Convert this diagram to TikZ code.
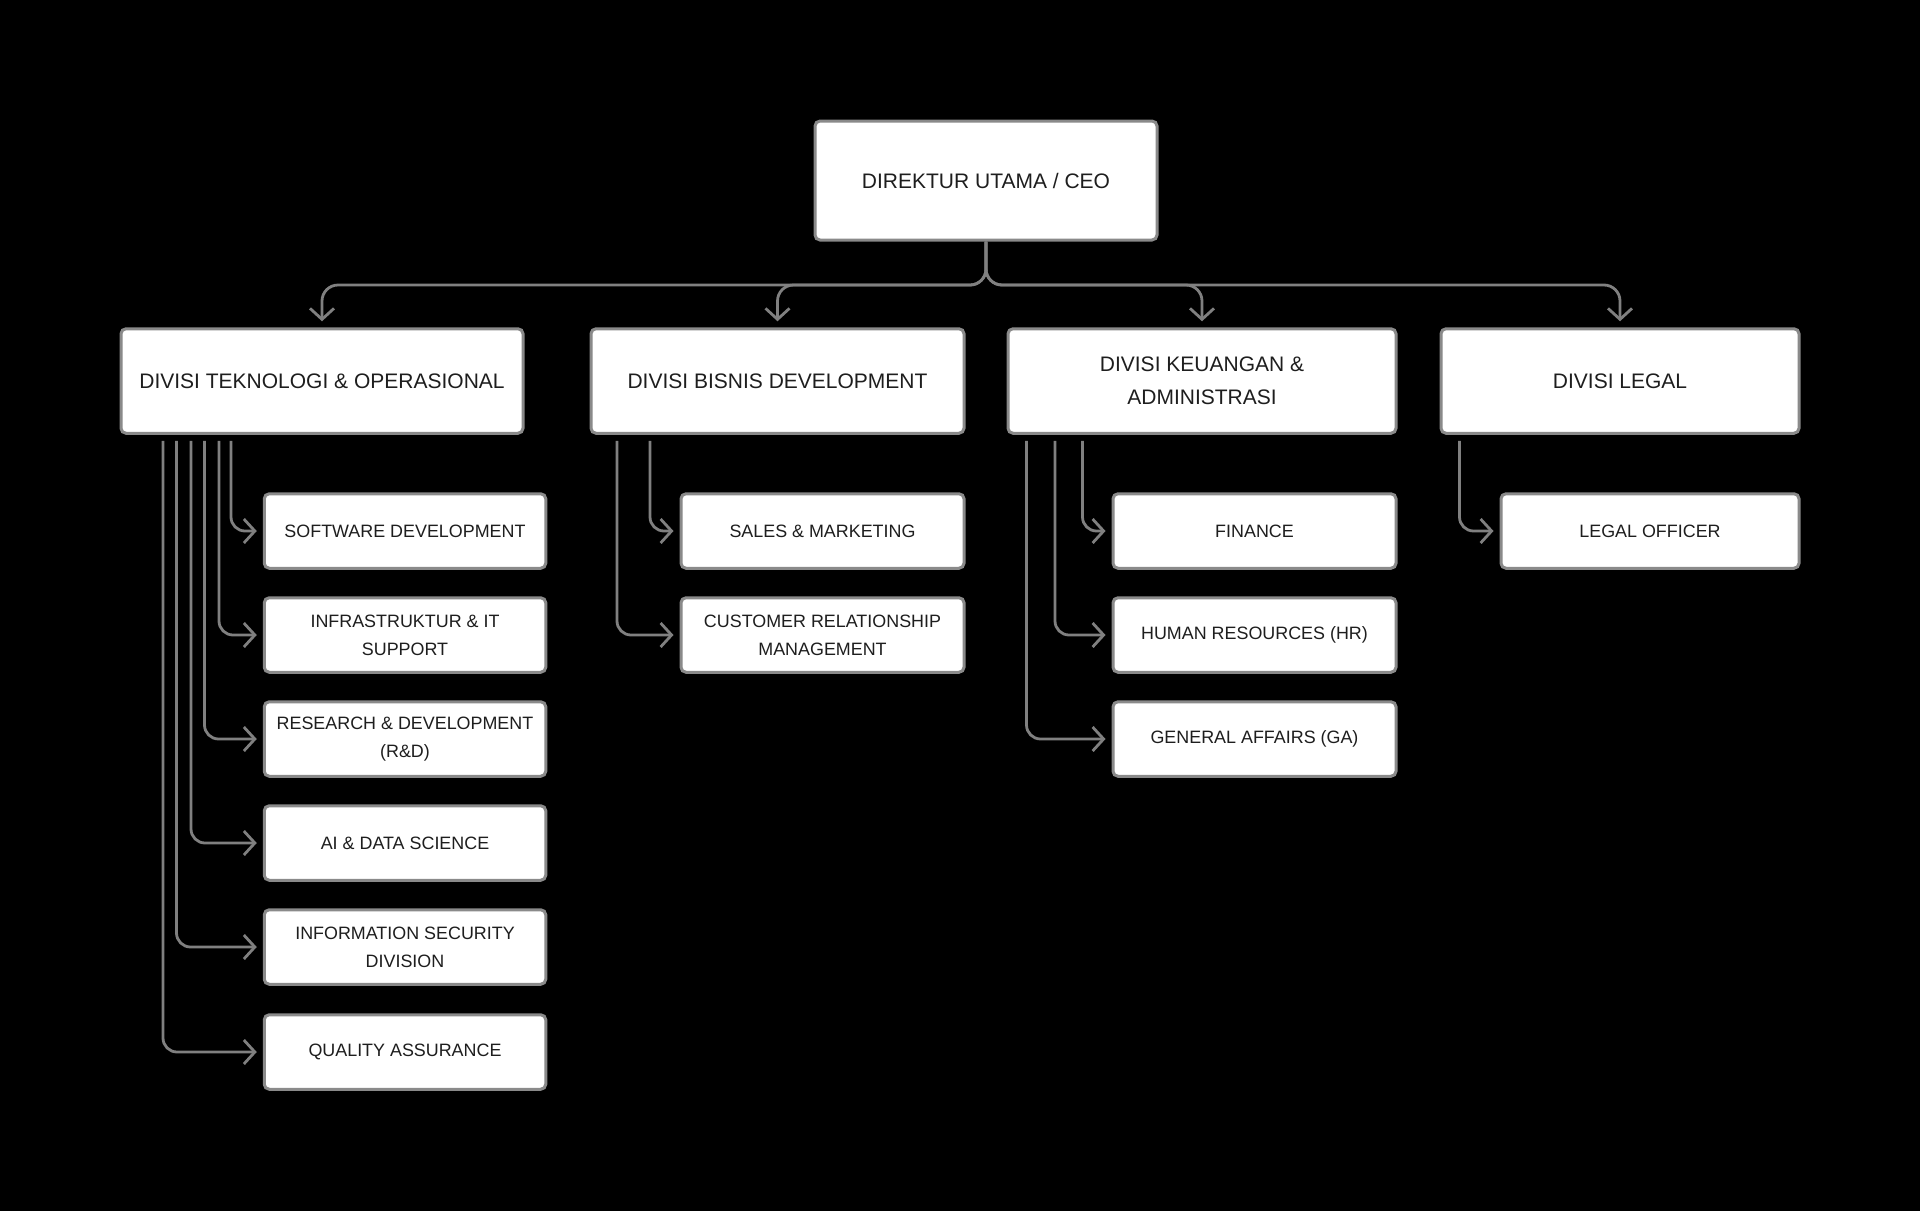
\documentclass[tikz,border=0pt]{standalone}
\usepackage{fontspec}
\setmainfont{Liberation Sans}
\usetikzlibrary{arrows.meta}
\definecolor{linegray}{HTML}{808080}
\definecolor{boxgray}{HTML}{8A8A8A}
\definecolor{txt}{HTML}{1E1E1E}
\tikzset{
  box/.style={draw=boxgray, line width=3pt, fill=white, rounded corners=5pt, inner sep=0pt, align=center, text=txt},
  headbox/.style={box, font=\fontsize{21}{33.5}\selectfont},
  subbox/.style={box, font=\fontsize{17.9}{28}\selectfont, minimum height=74.5pt},
  conn/.style={draw=linegray, line width=2.8pt, rounded corners=16pt, -{Straight Barb[length=11pt,width=24pt,line width=2.8pt]}},
}
\begin{document}
\begin{tikzpicture}[x=1pt,y=-1pt]
\fill[black] (0,0) rectangle (1920,1211);
\useasboundingbox (0,0) rectangle (1920,1211);

% top
\node[headbox, minimum width=342pt, minimum height=119pt] (ceo) at (986,180.5) {\raisebox{-1.5pt}{DIREKTUR UTAMA / CEO}};

% divisions
\node[headbox, minimum width=402pt, minimum height=104.5pt] (tek) at (322,381) {\raisebox{-2pt}{DIVISI TEKNOLOGI \& OPERASIONAL}};
\node[headbox, minimum width=373pt, minimum height=104.5pt] (bis) at (777.5,381) {\raisebox{-2pt}{DIVISI BISNIS DEVELOPMENT}};
\node[headbox, minimum width=388pt, minimum height=104.5pt] (keu) at (1202,381) {DIVISI KEUANGAN \&\\ADMINISTRASI};
\node[headbox, minimum width=358pt, minimum height=104.5pt] (leg) at (1620,381) {\raisebox{-2pt}{DIVISI LEGAL}};

% CEO connectors
\coordinate (bus) at (986,285);
\foreach \d in {tek,bis,keu,leg}{
  \draw[conn, shorten >=6pt] (ceo.south) -- (bus) -| (\d.north);
}

% tek subs
\node[subbox, minimum width=281.5pt] (sd) at (405,531) {SOFTWARE DEVELOPMENT};
\node[subbox, minimum width=281.5pt] (inf) at (405,635) {INFRASTRUKTUR \& IT\\SUPPORT};
\node[subbox, minimum width=281.5pt] (rnd) at (405,739) {RESEARCH \& DEVELOPMENT\\(R\&D)};
\node[subbox, minimum width=281.5pt] (ai) at (405,843) {AI \& DATA SCIENCE};
\node[subbox, minimum width=281.5pt] (isd) at (405,947) {INFORMATION SECURITY\\DIVISION};
\node[subbox, minimum width=281.5pt] (qa) at (405,1052) {QUALITY ASSURANCE};

% bis subs
\node[subbox, minimum width=283pt] (sm) at (822.5,531) {SALES \& MARKETING};
\node[subbox, minimum width=283pt] (crm) at (822.5,635) {CUSTOMER RELATIONSHIP\\MANAGEMENT};

% keu subs
\node[subbox, minimum width=283pt] (fin) at (1254.5,531) {FINANCE};
\node[subbox, minimum width=283pt] (hr) at (1254.5,635) {HUMAN RESOURCES (HR)};
\node[subbox, minimum width=283pt] (ga) at (1254.5,739) {GENERAL AFFAIRS (GA)};

% legal sub
\node[subbox, minimum width=298pt] (lo) at (1650,531) {LEGAL OFFICER};

% sub connectors
\tikzset{sub/.style={conn, rounded corners=14pt, shorten <=6pt, shorten >=6pt}}
\foreach \x/\t in {231/sd,219/inf,204.5/rnd,191/ai,176.5/isd,163/qa}{
  \draw[sub] (tek.south -| \x,0) |- (\t.west);
}
\foreach \x/\t in {650/sm,617/crm}{
  \draw[sub] (bis.south -| \x,0) |- (\t.west);
}
\foreach \x/\t in {1082.5/fin,1055/hr,1026.5/ga}{
  \draw[sub] (keu.south -| \x,0) |- (\t.west);
}
\draw[sub] (leg.south -| 1459.5,0) |- (lo.west);
\end{tikzpicture}
\end{document}
